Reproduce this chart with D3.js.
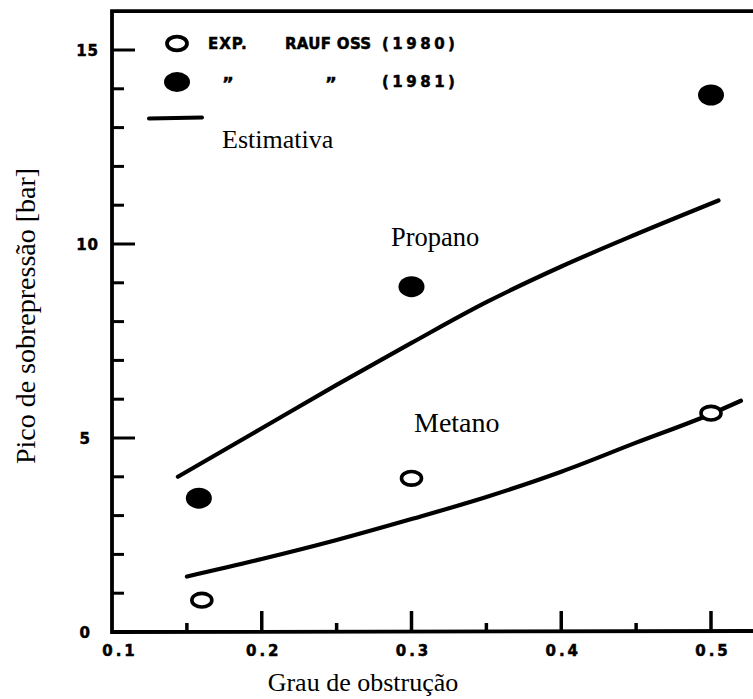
<!DOCTYPE html>
<html>
<head>
<meta charset="utf-8">
<script src="https://cdn.jsdelivr.net/npm/d3@7/dist/d3.min.js"></script>
<style>
  html, body { margin: 0; padding: 0; background: #fff; }
  svg { display: block; }
</style>
</head>
<body>
<svg id="chart" width="753" height="699"></svg>
<script>
// ---- data ----
const xTickValues = [0.1, 0.2, 0.3, 0.4, 0.5];
const xTickLabels = ["0.1", "0.2", "0.3", "0.4", "0.5"];
const xMinorTicks = [0.15, 0.25, 0.35, 0.45];
const yTickValues = [0, 5, 10, 15];
const yTickLabels = ["0", "5", "10", "15"];
const yMinorTicks = [1, 2, 3, 4, 6, 7, 8, 9, 11, 12, 13, 14];

// Experimental points
const exp1980X = [0.160, 0.300, 0.500];
const exp1980Y = [0.82, 3.96, 5.64];
const exp1981X = [0.158, 0.300, 0.500];
const exp1981Y = [3.45, 8.90, 13.84];

// Estimated curves
const propanoX = [0.144, 0.20, 0.25, 0.30, 0.35, 0.40, 0.45, 0.505];
const propanoY = [4.00, 5.25, 6.37, 7.45, 8.50, 9.42, 10.25, 11.12];
const metanoX = [0.150, 0.20, 0.25, 0.30, 0.35, 0.40, 0.45, 0.50, 0.52];
const metanoY = [1.43, 1.88, 2.37, 2.91, 3.48, 4.13, 4.88, 5.62, 5.96];

const legendLabels = ["EXP.", "RAUF OSS", "(1980)", "(1981)", "Estimativa"];

// ---- drawing ----
const svg = d3.select("#chart");
const x = d3.scaleLinear().domain([0.1, 0.5]).range([112, 711]);
const y = d3.scaleLinear().domain([0, 15]).range([632, 50]);
const xEnd = 753;
const yTop = y(16);

const ink = "#000";
const tickFont = "'DejaVu Sans', sans-serif";
const serif = "'Liberation Serif', 'Times New Roman', serif";

// frame: left axis, top line, bottom axis
svg.append("path")
  .attr("d", `M${xEnd},${yTop} L${x(0.1)},${yTop} L${x(0.1)},${y(0)} L${xEnd},${y(0) - 1}`)
  .attr("fill", "none").attr("stroke", ink).attr("stroke-width", 3.8)
  .attr("stroke-linejoin", "miter");

// y ticks (inward)
svg.selectAll(".ymaj").data(yTickValues.filter(v => v > 0)).enter().append("line")
  .attr("x1", x(0.1)).attr("x2", x(0.1) + 23)
  .attr("y1", d => y(d)).attr("y2", d => y(d))
  .attr("stroke", ink).attr("stroke-width", 3);
svg.selectAll(".ymin").data(yMinorTicks).enter().append("line")
  .attr("x1", x(0.1)).attr("x2", x(0.1) + 12)
  .attr("y1", d => y(d)).attr("y2", d => y(d))
  .attr("stroke", ink).attr("stroke-width", 3);

// x ticks (inward / upward)
svg.selectAll(".xmaj").data(xTickValues.filter(v => v > 0.1)).enter().append("line")
  .attr("x1", d => x(d)).attr("x2", d => x(d))
  .attr("y1", y(0)).attr("y2", y(0) - 21)
  .attr("stroke", ink).attr("stroke-width", 3.5);
svg.selectAll(".xmin").data(xMinorTicks).enter().append("line")
  .attr("x1", d => x(d)).attr("x2", d => x(d))
  .attr("y1", y(0)).attr("y2", y(0) - 9)
  .attr("stroke", ink).attr("stroke-width", 3.5);

// tick labels
svg.selectAll(".xlab").data(xTickValues).enter().append("text")
  .attr("x", (d, i) => x(d) + (i === 0 ? 8 : 2))
  .attr("y", 656)
  .attr("text-anchor", "middle")
  .attr("font-family", tickFont).attr("font-weight", "bold")
  .attr("font-size", 15).attr("letter-spacing", "3px")
  .attr("stroke", ink).attr("stroke-width", 0.5)
  .text((d, i) => xTickLabels[i]);

svg.selectAll(".ylab").data(yTickValues).enter().append("text")
  .attr("x", d => d >= 10 ? 99 : 91)
  .attr("y", d => y(d) + 5.5)
  .attr("text-anchor", "end")
  .attr("font-family", tickFont).attr("font-weight", "bold")
  .attr("font-size", 15).attr("letter-spacing", "1px")
  .attr("stroke", ink).attr("stroke-width", 0.5)
  .text((d, i) => yTickLabels[i]);

// axis titles
svg.append("text")
  .attr("x", 363).attr("y", 691)
  .attr("text-anchor", "middle")
  .attr("font-family", serif).attr("font-size", 26)
  .text("Grau de obstrução");

svg.append("text")
  .attr("transform", "translate(35,316) rotate(-90)")
  .attr("text-anchor", "middle")
  .attr("font-family", serif).attr("font-size", 28)
  .text("Pico de sobrepressão [bar]");

// curves
const line = d3.line().x(d => x(d[0])).y(d => y(d[1])).curve(d3.curveMonotoneX);
svg.append("path")
  .datum(propanoX.map((v, i) => [v, propanoY[i]]))
  .attr("d", line).attr("fill", "none").attr("stroke", ink)
  .attr("stroke-width", 4.2).attr("stroke-linecap", "round");
svg.append("path")
  .datum(metanoX.map((v, i) => [v, metanoY[i]]))
  .attr("d", line).attr("fill", "none").attr("stroke", ink)
  .attr("stroke-width", 4.2).attr("stroke-linecap", "round");

// points
svg.selectAll(".p1981").data(exp1981X).enter().append("ellipse")
  .attr("cx", d => x(d)).attr("cy", (d, i) => y(exp1981Y[i]))
  .attr("rx", 13).attr("ry", 10.5).attr("fill", ink);
svg.selectAll(".p1980").data(exp1980X).enter().append("ellipse")
  .attr("cx", d => x(d)).attr("cy", (d, i) => y(exp1980Y[i]))
  .attr("rx", 10).attr("ry", 6.8).attr("fill", "#fff")
  .attr("stroke", ink).attr("stroke-width", 3.6);

// curve labels
svg.append("text").attr("x", 391).attr("y", 246)
  .attr("font-family", serif).attr("font-size", 26.5).text("Propano");
svg.append("text").attr("x", 414).attr("y", 432)
  .attr("font-family", serif).attr("font-size", 28).text("Metano");

// legend
const lg = svg.append("g");
lg.append("ellipse").attr("cx", 177).attr("cy", 43.5).attr("rx", 10).attr("ry", 6.8)
  .attr("fill", "#fff").attr("stroke", ink).attr("stroke-width", 3.8);
lg.append("ellipse").attr("cx", 177).attr("cy", 82).attr("rx", 13).attr("ry", 10)
  .attr("fill", ink);
lg.append("line").attr("x1", 149).attr("y1", 118.5).attr("x2", 202).attr("y2", 117.5)
  .attr("stroke", ink).attr("stroke-width", 4).attr("stroke-linecap", "round");

function legText(px, py, txt, size, spacing) {
  lg.append("text").attr("x", px).attr("y", py)
    .attr("font-family", tickFont).attr("font-weight", "bold")
    .attr("font-size", size).attr("letter-spacing", spacing + "px")
    .attr("stroke", ink).attr("stroke-width", 0.5)
    .text(txt);
}
legText(208, 49, legendLabels[0], 15, 1);
legText(285, 49, legendLabels[1], 15, 0.3);
legText(382, 49, legendLabels[2], 15, 3.5);
legText(382, 87, legendLabels[3], 15, 3.5);
legText(222, 90, "\u201D", 18, 0);
legText(325, 90, "\u201D", 18, 0);

svg.append("text").attr("x", 222).attr("y", 148)
  .attr("font-family", serif).attr("font-size", 26).text(legendLabels[4]);
</script>
</body>
</html>
